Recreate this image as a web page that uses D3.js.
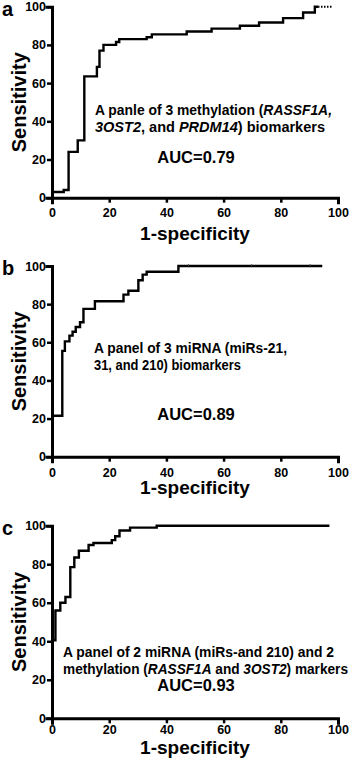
<!DOCTYPE html>
<html>
<head>
<meta charset="utf-8">
<script src="https://cdn.jsdelivr.net/npm/d3@7"></script>
<style>
  body { margin: 0; background: #fff; }
  text { font-family: "Liberation Sans", Arial, sans-serif; font-weight: bold; fill: #000; }
</style>
</head>
<body>
<svg id="fig" width="358" height="767"></svg>
<script>
// Panel a: 3 methylation markers (step corners: 1-specificity %, sensitivity %)
const fprA = [0, 4.1, 5.8, 9.0, 11.3, 15.7, 16.6, 18.0, 22.4, 23.5, 33.1, 34.9, 47.1, 55.8, 65.7, 72.4, 80.8, 87.8, 91.9, 93];
const tprA = [3, 4, 24, 30, 63.5, 68.5, 77, 80, 81.5, 83, 84, 85.5, 87, 88.5, 90, 91.7, 94, 97, 100, 100];
const dashA = [93, 98];
// Panel b: 3 miRNA markers
const fprB = [0, 3.6, 4.5, 6.1, 7.2, 8.3, 9.8, 11, 15, 25, 26.7, 30.2, 31.7, 33.1, 44.2, 94.5];
const tprB = [21.5, 55.5, 60.5, 63.5, 65.5, 68, 70.5, 77.5, 81.5, 85, 87, 92.5, 95.5, 97, 100, 100];
const censorB = [47.7, 69.8, 90.3];
// Panel c: 2 miRNA + 2 methylation markers
const fprC = [0, 1.2, 2.9, 4.7, 6.4, 7.8, 9.4, 12.8, 14.5, 20.9, 22.1, 23.6, 27.3, 36.6, 97];
const tprC = [40.5, 56, 60, 63, 78.5, 83.5, 87, 90, 91, 92.5, 94.5, 97.5, 99, 100, 100];

const ticks = [0, 20, 40, 60, 80, 100];
const letters = ["a", "b", "c"];
const aucLabels = ["AUC=0.79", "AUC=0.89", "AUC=0.93"];
// annotation lines, each a list of [text, italic]
const notesA = [
  [["A panle of 3 methylation (", false], ["RASSF1A,", true]],
  [["3OST2", true], [", and ", false], ["PRDM14", true], [") biomarkers", false]]
];
const notesB = [
  [["A panel of 3 miRNA (miRs-21,", false]],
  [["31, and 210) biomarkers", false]]
];
const notesC = [
  [["A panel of 2 miRNA (miRs-and 210) and 2", false]],
  [["methylation (", false], ["RASSF1A", true], [" and ", false], ["3OST2", true], [") markers", false]]
];

const svg = d3.select("#fig");

const panels = [
  { fpr: fprA, tpr: tprA, notes: notesA, widths: [237, 230], top: 6.7, bottom: 197.7, tickY: 214, titleY: 240, noteX: 95, noteY: 115, aucY: 162.5, dash: dashA },
  { fpr: fprB, tpr: tprB, notes: notesB, widths: [193, 147], top: 266, bottom: 456.7, tickY: 474, titleY: 494, noteX: 94, noteY: 353, aucY: 420, censor: censorB },
  { fpr: fprC, tpr: tprC, notes: notesC, widths: [271, 285], top: 525.7, bottom: 718.3, tickY: 731, titleY: 754, noteX: 63, noteY: 657, aucY: 691 }
];

panels.forEach((p, i) => {
  const x = d3.scaleLinear().domain([0, 100]).range([52, 338]);
  const y = d3.scaleLinear().domain([0, 100]).range([p.bottom, p.top]);
  const g = svg.append("g");

  // axes
  const yAxis = g.append("g")
    .attr("transform", "translate(52,0)")
    .call(d3.axisLeft(y).tickValues(ticks).tickSize(5).tickPadding(1));
  const xAxis = g.append("g")
    .attr("transform", `translate(0,${p.bottom})`)
    .call(d3.axisBottom(x).tickValues(ticks).tickSize(5).tickPadding(2));
  [yAxis, xAxis].forEach(ax => {
    ax.select(".domain").attr("stroke", "#000").attr("stroke-width", 3).attr("stroke-linecap", "square");
    ax.selectAll(".tick line").attr("stroke", "#000").attr("stroke-width", 2.5);
    ax.selectAll("text").style("font-size", "12.5px").style("font-family", "'Liberation Sans', Arial, sans-serif").style("font-weight", "bold").attr("fill", "#000");
  });
  xAxis.selectAll("text").attr("dy", null).attr("y", p.tickY - p.bottom).attr("dominant-baseline", "middle");

  // ROC step curve
  const pts = p.fpr.map((v, k) => [v, p.tpr[k]]);
  const line = d3.line().x(d => x(d[0])).y(d => y(d[1])).curve(d3.curveStepAfter);
  g.append("path")
    .datum(pts)
    .attr("d", line)
    .attr("fill", "none")
    .attr("stroke", "#000")
    .attr("stroke-width", 2.4);
  if (p.dash) {
    g.append("line")
      .attr("x1", x(p.dash[0])).attr("x2", x(p.dash[1]))
      .attr("y1", y(100)).attr("y2", y(100))
      .attr("stroke", "#000").attr("stroke-width", 2)
      .attr("stroke-dasharray", "1.5,1.5");
  }
  if (p.censor) {
    g.selectAll(".cens").data(p.censor).enter().append("line")
      .attr("x1", d => x(d)).attr("x2", d => x(d))
      .attr("y1", y(100) - 2).attr("y2", y(100))
      .attr("stroke", "#555").attr("stroke-width", 1);
  }

  // labels
  g.append("text")
    .attr("x", 2).attr("y", p.top + 9)
    .style("font-size", "20px")
    .text(letters[i]);
  g.append("text")
    .attr("transform", `translate(26,${(p.top + p.bottom) / 2}) rotate(-90)`)
    .attr("text-anchor", "middle")
    .style("font-size", "20px")
    .text("Sensitivity");
  g.append("text")
    .attr("x", 195).attr("y", p.titleY)
    .attr("text-anchor", "middle")
    .style("font-size", "19px")
    .text("1-specificity");

  p.notes.forEach((ln, k) => {
    const t = g.append("text")
      .attr("x", p.noteX).attr("y", p.noteY + k * 16.7)
      .attr("textLength", p.widths[k])
      .attr("lengthAdjust", "spacingAndGlyphs")
      .style("font-size", "14px");
    ln.forEach(([s, it]) => t.append("tspan").style("font-style", it ? "italic" : "normal").text(s));
  });
  g.append("text")
    .attr("x", 196).attr("y", p.aucY)
    .attr("text-anchor", "middle")
    .style("font-size", "16.5px")
    .text(aucLabels[i]);
});
</script>
</body>
</html>
